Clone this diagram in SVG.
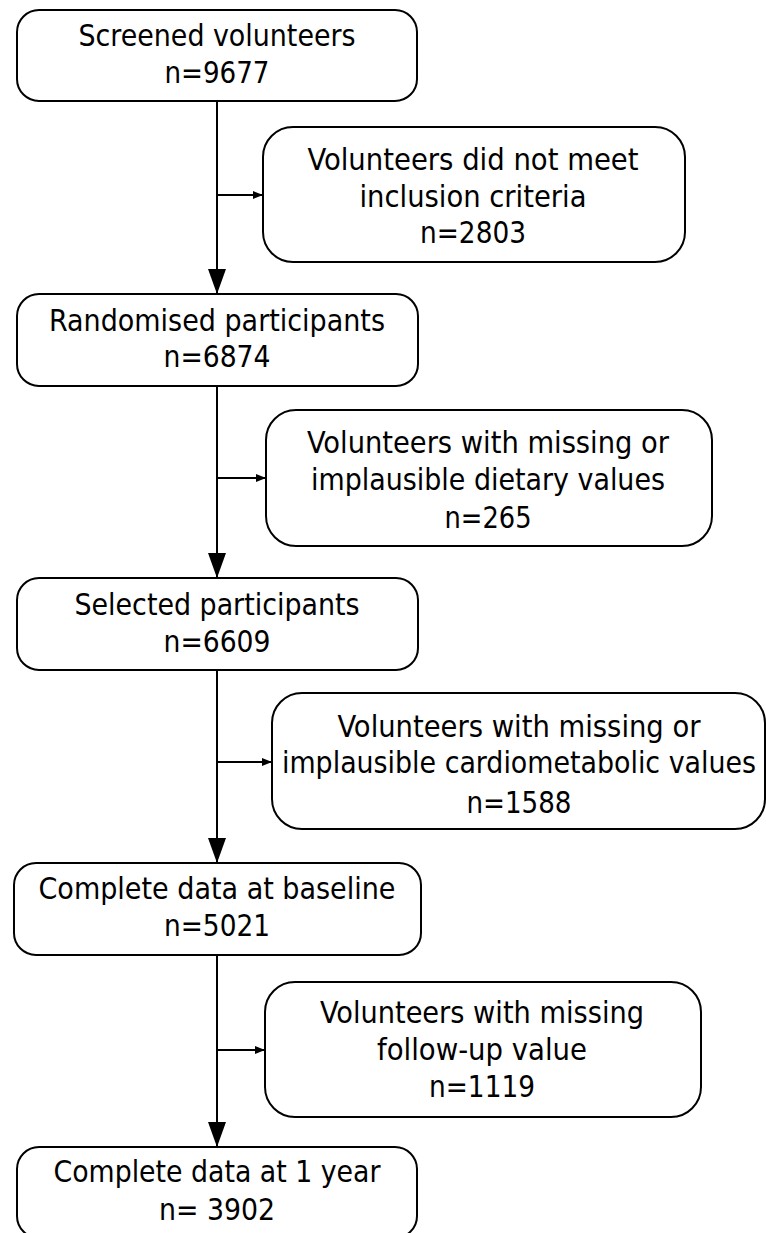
<svg xmlns="http://www.w3.org/2000/svg" width="766" height="1233" viewBox="0 0 766 1233">
<style>
.box{fill:#fff;stroke:#000;stroke-width:2}
.ln{fill:none;stroke:#000;stroke-width:2}
.t{font-family:"DejaVu Sans Condensed","DejaVu Sans","Liberation Sans",sans-serif;font-size:30px;fill:#000;text-anchor:middle}
</style>
<defs>
<marker id="big" markerUnits="userSpaceOnUse" markerWidth="26" markerHeight="20" refX="25" refY="9" orient="auto"><path d="M0,0 L25,9 L0,18 z" fill="#000"/></marker>
<marker id="small" markerUnits="userSpaceOnUse" markerWidth="12" markerHeight="10" refX="10" refY="4" orient="auto"><path d="M0,0 L10,4 L0,8 z" fill="#000"/></marker>
</defs>
<rect width="766" height="1233" fill="#fff"/>
<g id="connectors">
<line class="ln" x1="217" y1="101" x2="217" y2="294" marker-end="url(#big)"/>
<line class="ln" x1="217" y1="386" x2="217" y2="578" marker-end="url(#big)"/>
<line class="ln" x1="217" y1="670" x2="217" y2="863" marker-end="url(#big)"/>
<line class="ln" x1="217" y1="955" x2="217" y2="1147" marker-end="url(#big)"/>
<line class="ln" x1="217" y1="195" x2="263" y2="195" marker-end="url(#small)"/>
<line class="ln" x1="217" y1="478" x2="266" y2="478" marker-end="url(#small)"/>
<line class="ln" x1="217" y1="762" x2="272" y2="762" marker-end="url(#small)"/>
<line class="ln" x1="217" y1="1050" x2="265" y2="1050" marker-end="url(#small)"/>
</g>
<g id="screened">
<rect class="box" x="17" y="10" width="400" height="91" rx="22"/>
<text class="t" x="217" y="46" textLength="277" lengthAdjust="spacingAndGlyphs">Screened volunteers</text>
<text class="t" x="217" y="83" textLength="105" lengthAdjust="spacingAndGlyphs">n=9677</text>
</g>
<g id="excluded1">
<rect class="box" x="263" y="127" width="422" height="135" rx="30"/>
<text class="t" x="473" y="170" textLength="331" lengthAdjust="spacingAndGlyphs">Volunteers did not meet</text>
<text class="t" x="473" y="207" textLength="227" lengthAdjust="spacingAndGlyphs">inclusion criteria</text>
<text class="t" x="473" y="243" textLength="106" lengthAdjust="spacingAndGlyphs">n=2803</text>
</g>
<g id="randomised">
<rect class="box" x="17" y="294" width="401" height="92" rx="22"/>
<text class="t" x="217" y="331" textLength="336" lengthAdjust="spacingAndGlyphs">Randomised participants</text>
<text class="t" x="217" y="367" textLength="107" lengthAdjust="spacingAndGlyphs">n=6874</text>
</g>
<g id="excluded2">
<rect class="box" x="266" y="410" width="446" height="136" rx="30"/>
<text class="t" x="488" y="453" textLength="362" lengthAdjust="spacingAndGlyphs">Volunteers with missing or</text>
<text class="t" x="488" y="490" textLength="354" lengthAdjust="spacingAndGlyphs">implausible dietary values</text>
<text class="t" x="488" y="528" textLength="87" lengthAdjust="spacingAndGlyphs">n=265</text>
</g>
<g id="selected">
<rect class="box" x="17" y="578" width="401" height="92" rx="22"/>
<text class="t" x="217" y="615" textLength="285" lengthAdjust="spacingAndGlyphs">Selected participants</text>
<text class="t" x="217" y="652" textLength="107" lengthAdjust="spacingAndGlyphs">n=6609</text>
</g>
<g id="excluded3">
<rect class="box" x="272" y="693" width="493" height="136" rx="30"/>
<text class="t" x="519" y="737" textLength="363" lengthAdjust="spacingAndGlyphs">Volunteers with missing or</text>
<text class="t" x="519" y="773" textLength="474" lengthAdjust="spacingAndGlyphs">implausible cardiometabolic values</text>
<text class="t" x="519" y="813" textLength="105" lengthAdjust="spacingAndGlyphs">n=1588</text>
</g>
<g id="baseline">
<rect class="box" x="14" y="863" width="407" height="92" rx="22"/>
<text class="t" x="217" y="899" textLength="357" lengthAdjust="spacingAndGlyphs">Complete data at baseline</text>
<text class="t" x="217" y="936" textLength="106" lengthAdjust="spacingAndGlyphs">n=5021</text>
</g>
<g id="excluded4">
<rect class="box" x="265" y="982" width="436" height="135" rx="30"/>
<text class="t" x="482" y="1023" textLength="324" lengthAdjust="spacingAndGlyphs">Volunteers with missing</text>
<text class="t" x="482" y="1060" textLength="210" lengthAdjust="spacingAndGlyphs">follow-up value</text>
<text class="t" x="482" y="1097" textLength="106" lengthAdjust="spacingAndGlyphs">n=1119</text>
</g>
<g id="oneyear">
<rect class="box" x="17" y="1147" width="400" height="91" rx="22"/>
<text class="t" x="217" y="1182" textLength="327" lengthAdjust="spacingAndGlyphs">Complete data at 1 year</text>
<text class="t" x="217" y="1220" textLength="116" lengthAdjust="spacingAndGlyphs">n= 3902</text>
</g>
</svg>
